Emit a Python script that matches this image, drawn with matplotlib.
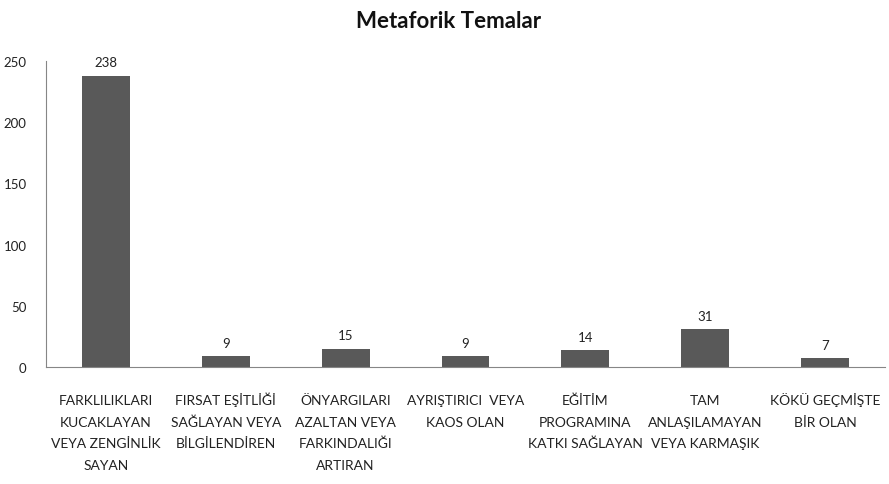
import matplotlib.pyplot as plt
import numpy as np

# veriler
etiketler = ['FARKLILIKLARI\nKUCAKLAYAN\nVEYA ZENGİNLİK\nSAYAN',
             'FIRSAT EŞİTLİĞİ\nSAĞLAYAN VEYA\nBİLGİLENDİREN',
             'ÖNYARGILARI\nAZALTAN VEYA\nFARKINDALIĞI\nARTIRAN',
             'AYRIŞTIRICI  VEYA\nKAOS OLAN',
             'EĞİTİM\nPROGRAMINA\nKATKI SAĞLAYAN',
             'TAM\nANLAŞILAMAYAN\nVEYA KARMAŞIK',
             'KÖKÜ GEÇMİŞTE\nBİR OLAN']
degerler = [238, 9, 15, 9, 14, 31, 7]
y_ticks = [0, 50, 100, 150, 200, 250]

plt.rcParams['font.family'] = ['Lato', 'DejaVu Sans']

fig = plt.figure(figsize=(8.89, 4.85), dpi=100)
ax = fig.add_axes([46/889, (485-368)/485, (885-46)/889, (368-62)/485])

x = np.arange(len(degerler))
ax.bar(x, degerler, width=0.4, color='#595959')
for xi, v in zip(x, degerler):
    ax.text(xi, v + 6, str(v), ha='center', va='bottom', fontsize=9.5, color='#222222')

ax.set_xlim(-0.5, len(degerler) - 0.5)
ax.set_ylim(0, 250)
ax.set_yticks(y_ticks)
ax.set_yticklabels([str(t) for t in y_ticks], fontsize=9.5, color='#222222')
ax.set_xticks(x)
ax.set_xticklabels([])
ax.tick_params(axis='x', length=0)
ax.tick_params(axis='y', length=0, pad=14)

# kategori etiketleri: her satır ayrı, taban çizgileri hizalı
px = 250 / 306  # piksel -> veri birimi
for xi, et in zip(x, etiketler):
    for i, satir in enumerate(et.split('\n')):
        ax.text(xi, -(37 + 21.7 * i) * px, satir, ha='center', va='baseline',
                fontsize=10, color='#222222', clip_on=False)

for s in ['top', 'right']:
    ax.spines[s].set_visible(False)
for s in ['left', 'bottom']:
    ax.spines[s].set_color('#868686')

fig.text(449/889, 1 - 22/485, 'Metaforik Temalar', ha='center', va='center',
         fontsize=16, fontweight='bold', color='#111111')

plt.savefig('out.png', dpi=100)
